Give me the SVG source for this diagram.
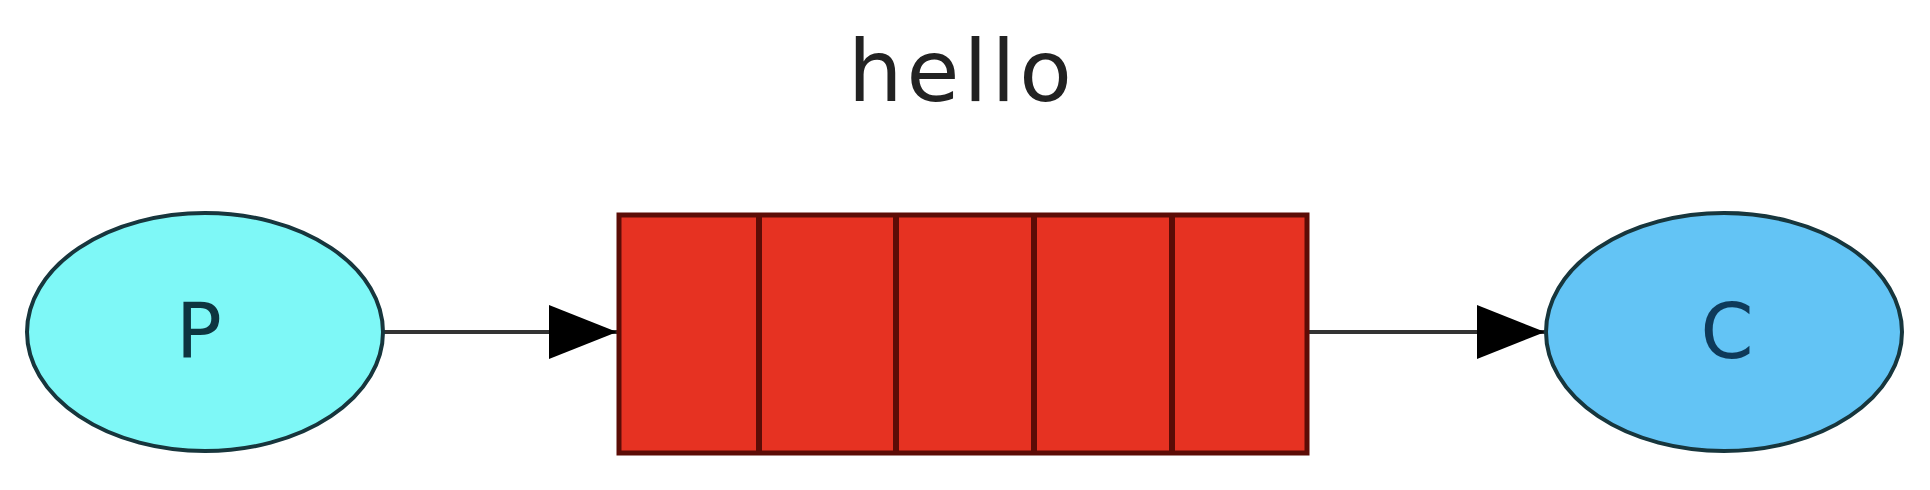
<svg xmlns="http://www.w3.org/2000/svg" width="1930" height="490" viewBox="0 0 1930 490">
<style>
.lbl{font-family:"DejaVu Sans","Liberation Sans",sans-serif;text-anchor:middle}
.node{stroke:#17363d;stroke-width:4}
.cell{fill:#e63222;stroke:#5c0c06;stroke-width:5}
.div{stroke:#5c0c06;stroke-width:6}
.edge{stroke:#333;stroke-width:4;fill:none}
</style>
<defs>
<marker id="arr" markerUnits="userSpaceOnUse" markerWidth="72" markerHeight="60" refX="68" refY="30" orient="auto">
<path d="M0,3 L68,30 L0,57 Z" fill="#000"/>
</marker>
</defs>
<rect width="1930" height="490" fill="#fff"/>
<g id="title"><text class="lbl" x="962" y="101" font-size="86" letter-spacing="4" fill="#222">hello</text></g>
<g id="connectors">
<line class="edge" x1="384" y1="332" x2="617" y2="332" marker-end="url(#arr)"/>
<line class="edge" x1="1307" y1="332" x2="1545" y2="332" marker-end="url(#arr)"/>
</g>
<g id="P">
<ellipse class="node" cx="205" cy="332" rx="178" ry="119" fill="#7ef8f7"/>
<text class="lbl" x="199" y="358" font-size="76" fill="#0e3540">P</text>
</g>
<g id="queue">
<rect class="cell" x="619" y="215" width="688" height="238"/>
<line class="div" x1="759" y1="215" x2="759" y2="453"/>
<line class="div" x1="896" y1="215" x2="896" y2="453"/>
<line class="div" x1="1034" y1="215" x2="1034" y2="453"/>
<line class="div" x1="1172" y1="215" x2="1172" y2="453"/>
</g>
<g id="C">
<ellipse class="node" cx="1724" cy="332" rx="178" ry="119" fill="#63c4f5"/>
<text class="lbl" x="1727" y="358" font-size="76" fill="#0e3a5a">C</text>
</g>
</svg>
